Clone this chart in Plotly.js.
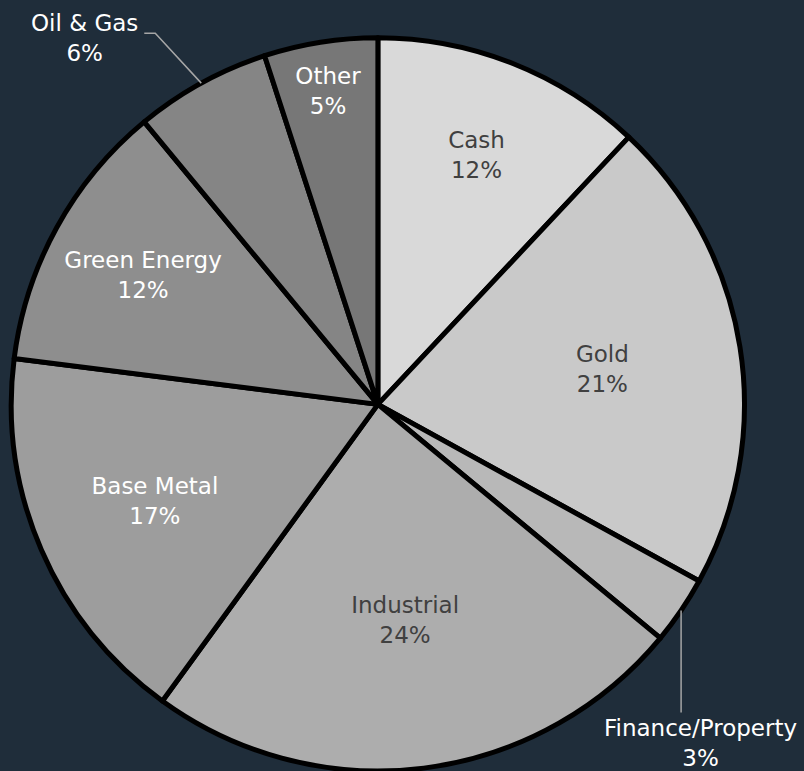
<!DOCTYPE html>
<html>
<head>
<meta charset="utf-8">
<script src="https://cdn.plot.ly/plotly-3.0.1.min.js"></script>
<style>html,body{margin:0;padding:0;background:#1f2d3a;}#chart{width:804px;height:771px;}</style>
</head>
<body>
<div id="chart"></div>
<script>
const categories = ["Cash", "Gold", "Finance/Property", "Industrial", "Base Metal", "Green Energy", "Oil & Gas", "Other"];
const shares = [12, 21, 3, 24, 17, 12, 6, 5];
const sliceColors = ["#d9d9d9", "#c9c9c9", "#b8b8b8", "#adadad", "#9d9d9d", "#8e8e8e", "#858585", "#777777"];
const textPositions = ["inside", "inside", "none", "inside", "inside", "inside", "none", "inside"];
const textColors = ["#404040", "#404040", "#ffffff", "#404040", "#ffffff", "#ffffff", "#ffffff", "#ffffff"];

const W = 804, H = 771;
const dom = { x: [0.014, 0.926], y: [0, 0.951] };
const FONT = "DejaVu Sans, Verdana, sans-serif";
const FS = 23;

// pie geometry in pixels (margins are zero)
const cx = (dom.x[0] + dom.x[1]) / 2 * W;
const cy = H - (dom.y[0] + dom.y[1]) / 2 * H;
const R = Math.min((dom.x[1] - dom.x[0]) * W, (dom.y[1] - dom.y[0]) * H) / 2;
const total = shares.reduce((a, b) => a + b, 0);
function edgePoint(i) {
  let before = 0;
  for (let k = 0; k < i; k++) before += shares[k];
  const ang = (before + shares[i] / 2) / total * 2 * Math.PI;
  return { x: cx + R * Math.sin(ang), y: cy - R * Math.cos(ang) };
}
const px = (x) => x / W;
const py = (y) => 1 - y / H;

const trace = {
  type: "pie",
  labels: categories,
  values: shares,
  sort: false,
  direction: "clockwise",
  rotation: 0,
  marker: { colors: sliceColors, line: { color: "#000000", width: 5 } },
  texttemplate: "%{label}<br>%{percent:.0%}",
  textposition: textPositions,
  insidetextorientation: "horizontal",
  textfont: { family: FONT, size: FS, color: textColors },
  hoverinfo: "label+percent",
  showlegend: false,
  automargin: false,
  domain: dom
};

const shapes = [];
const annotations = [];
function pctText(i) { return categories[i] + "<br>" + Math.round(shares[i] / total * 100) + "%"; }

// Oil & Gas: connector diagonal then short horizontal, label to the upper-left
const iOil = categories.indexOf("Oil & Gas");
const eo = edgePoint(iOil);
const bendO = { x: eo.x - 46, y: eo.y - 50 };
const endO = { x: bendO.x - 11, y: bendO.y };
shapes.push({
  type: "path", xref: "paper", yref: "paper",
  path: `M ${px(eo.x)} ${py(eo.y)} L ${px(bendO.x)} ${py(bendO.y)} L ${px(endO.x)} ${py(endO.y)}`,
  line: { color: "#a6a6a6", width: 1.5 }
});
annotations.push({
  xref: "paper", yref: "paper", x: px(endO.x), y: py(endO.y),
  xanchor: "right", yanchor: "middle", xshift: -4, yshift: -5, showarrow: false,
  text: pctText(iOil), font: { family: FONT, size: FS, color: "#ffffff" }, align: "center"
});

// Finance/Property: vertical connector, label below
const iFin = categories.indexOf("Finance/Property");
const ef = edgePoint(iFin);
const endF = { x: ef.x, y: ef.y + 102 };
shapes.push({
  type: "path", xref: "paper", yref: "paper",
  path: `M ${px(ef.x)} ${py(ef.y)} L ${px(endF.x)} ${py(endF.y)}`,
  line: { color: "#a6a6a6", width: 1.5 }
});
annotations.push({
  xref: "paper", yref: "paper", x: px(endF.x), y: py(endF.y),
  xanchor: "center", yanchor: "top", xshift: 19, yshift: -1, showarrow: false,
  text: pctText(iFin), font: { family: FONT, size: FS, color: "#ffffff" }, align: "center"
});

Plotly.newPlot("chart", [trace], {
  width: W,
  height: H,
  margin: { l: 0, r: 0, t: 0, b: 0 },
  paper_bgcolor: "#1f2d3a",
  plot_bgcolor: "#1f2d3a",
  showlegend: false,
  shapes: shapes,
  annotations: annotations
}, { displayModeBar: false, staticPlot: true });
</script>
</body>
</html>
